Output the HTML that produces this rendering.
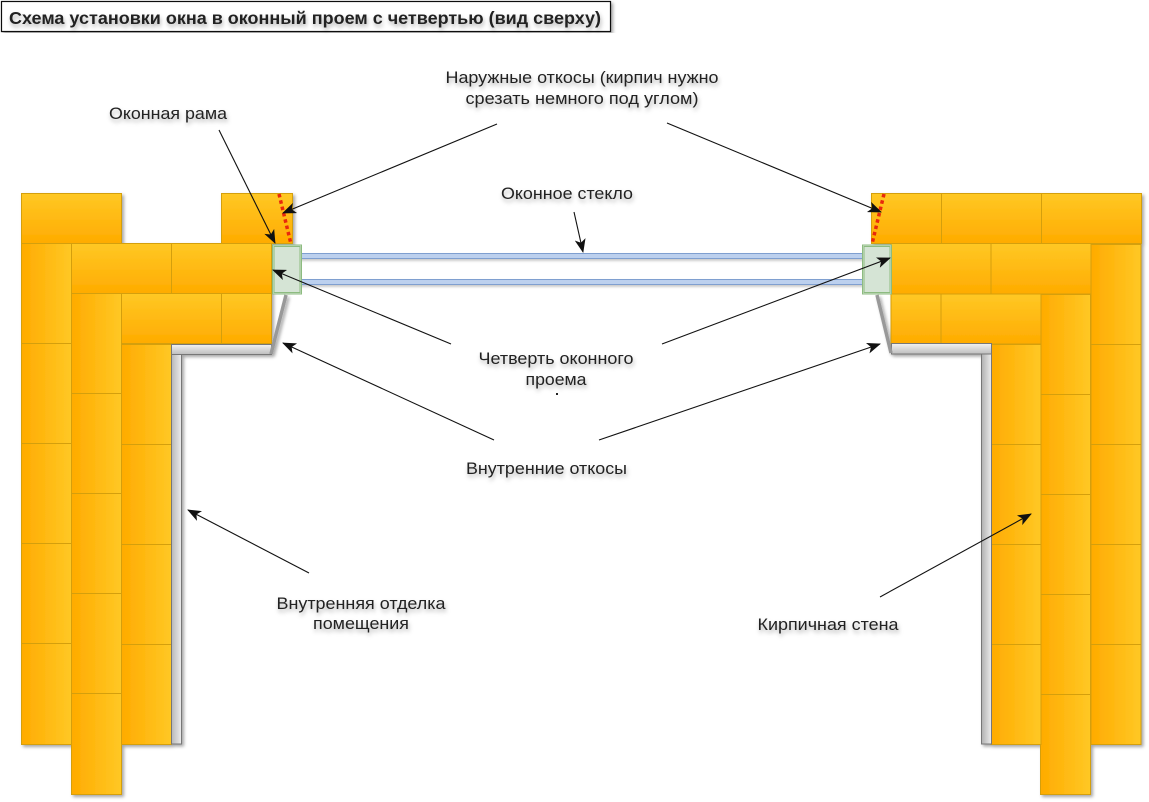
<!DOCTYPE html>
<html lang="ru">
<head>
<meta charset="utf-8">
<title>Схема установки окна</title>
<style>
html,body{margin:0;padding:0;background:#fff;width:1149px;height:802px;overflow:hidden}
svg{display:block}
text{font-family:"Liberation Sans",sans-serif;font-size:17px;fill:#222;text-anchor:middle;filter:url(#ts)}
.h{fill:url(#gh);stroke:#d49f10;stroke-width:1}
.v{fill:url(#gv);stroke:#d49f10;stroke-width:1}
.a{stroke:#111;stroke-width:1.1;fill:none;marker-end:url(#ar)}
</style>
</head>
<body>
<svg width="1149" height="802" viewBox="0 0 1149 802" xmlns="http://www.w3.org/2000/svg">
<defs>
<linearGradient id="gh" x1="0" y1="0" x2="0" y2="1"><stop offset="0" stop-color="#ffc825"/><stop offset="1" stop-color="#ffab00"/></linearGradient>
<linearGradient id="gv" x1="0" y1="0" x2="1" y2="0"><stop offset="0" stop-color="#ffab00"/><stop offset="1" stop-color="#ffc825"/></linearGradient>
<linearGradient id="th" x1="0" y1="0" x2="0" y2="1"><stop offset="0" stop-color="#f2f2f2"/><stop offset="1" stop-color="#bdbdbd"/></linearGradient>
<linearGradient id="tv" x1="0" y1="0" x2="1" y2="0"><stop offset="0" stop-color="#b8b8b8"/><stop offset="1" stop-color="#ececec"/></linearGradient>
<linearGradient id="tv2" x1="1" y1="0" x2="0" y2="0"><stop offset="0" stop-color="#ececec"/><stop offset="1" stop-color="#b0b0b0"/></linearGradient>
<filter id="sh" x="-5%" y="-5%" width="110%" height="110%"><feDropShadow dx="2" dy="2" stdDeviation="1.5" flood-color="#000" flood-opacity=".35"/></filter>
<filter id="gs" x="-2%" y="-60%" width="104%" height="240%"><feDropShadow dx="0" dy="2" stdDeviation="1" flood-color="#000" flood-opacity=".2"/></filter>
<filter id="ts" x="-5%" y="-20%" width="110%" height="160%"><feDropShadow dx="1" dy="3" stdDeviation="2" flood-color="#000" flood-opacity=".3"/></filter>
<marker id="ar" viewBox="0 0 14 11" refX="13" refY="5.500" markerWidth="14" markerHeight="11" markerUnits="userSpaceOnUse" orient="auto"><path d="M0 0L14 5.500L0 11L3.500 5.500Z" fill="#111"/></marker>
</defs>

<!-- title -->
<rect x="1.500" y="1.500" width="609" height="30" fill="#fff" stroke="#111" stroke-width="1.200" filter="url(#sh)"/>
<text x="305" y="24" style="font-size:17.500px;font-weight:700" textLength="592" lengthAdjust="spacingAndGlyphs">Схема установки окна в оконный проем с четвертью (вид сверху)</text>

<!-- left wall -->
<g filter="url(#sh)">
<rect class="h" x="21.500" y="193.500" width="100" height="50"/>
<rect class="h" x="221.500" y="193.500" width="71" height="50"/>
<rect class="v" x="71.500" y="693.500" width="50" height="101"/>
<rect class="v" x="71.500" y="593.500" width="50" height="100"/>
<rect class="v" x="21.500" y="243.500" width="50" height="100"/>
<rect class="v" x="21.500" y="343.500" width="50" height="100"/>
<rect class="v" x="21.500" y="443.500" width="50" height="100"/>
<rect class="v" x="21.500" y="543.500" width="50" height="100"/>
<rect class="v" x="21.500" y="643.500" width="50" height="101"/>
<rect class="v" x="71.500" y="293.500" width="50" height="100"/>
<rect class="v" x="71.500" y="393.500" width="50" height="100"/>
<rect class="v" x="71.500" y="493.500" width="50" height="100"/>
<rect class="v" x="121.500" y="344.500" width="50" height="100"/>
<rect class="v" x="121.500" y="444.500" width="50" height="100"/>
<rect class="v" x="121.500" y="544.500" width="50" height="100"/>
<rect class="v" x="121.500" y="644.500" width="50" height="100"/>
<rect class="h" x="71.500" y="243.500" width="100" height="50"/>
<rect class="h" x="171.500" y="243.500" width="100" height="50"/>
<rect class="h" x="121.500" y="293.500" width="100" height="50"/>
<rect class="h" x="221.500" y="293.500" width="50" height="50"/>
<!-- left trim -->
<rect x="171.500" y="354" width="10" height="390" fill="url(#tv)" stroke="#777" stroke-width="1"/>
<rect x="171.500" y="344.500" width="100" height="10" fill="url(#th)" stroke="#777" stroke-width="1"/>
<path d="M271 354L286 295" stroke="#999" stroke-width="3.500" fill="none"/>
</g>

<!-- right wall -->
<g filter="url(#sh)">
<rect class="h" x="871.500" y="193.500" width="70" height="50"/>
<rect class="h" x="941.500" y="193.500" width="100" height="50"/>
<rect class="h" x="1041.500" y="193.500" width="100" height="50"/>
<rect class="v" x="1091" y="244.500" width="50" height="100"/>
<rect class="v" x="1091" y="344.500" width="50" height="100"/>
<rect class="v" x="1091" y="444.500" width="50" height="100"/>
<rect class="v" x="1091" y="544.500" width="50" height="100"/>
<rect class="v" x="1091" y="644.500" width="50" height="100"/>
<rect class="v" x="1040.500" y="294.500" width="50" height="100"/>
<rect class="v" x="1040.500" y="394.500" width="50" height="100"/>
<rect class="v" x="1040.500" y="494.500" width="50" height="100"/>
<rect class="v" x="1040.500" y="594.500" width="50" height="100"/>
<rect class="v" x="1040.500" y="694.500" width="50" height="100"/>
<rect class="v" x="991" y="344.500" width="50" height="100"/>
<rect class="v" x="991" y="444.500" width="50" height="100"/>
<rect class="v" x="991" y="544.500" width="50" height="100"/>
<rect class="v" x="991" y="644.500" width="50" height="100"/>
<rect class="h" x="891" y="243.500" width="100" height="50.500"/>
<rect class="h" x="991" y="243.500" width="100" height="50.500"/>
<rect class="h" x="891" y="294" width="50" height="50"/>
<rect class="h" x="941" y="294" width="100" height="50"/>
<!-- right trim -->
<rect x="981.500" y="354" width="10" height="390" fill="url(#tv2)" stroke="#777" stroke-width="1"/>
<rect x="891.500" y="343.500" width="100" height="10.500" fill="url(#th)" stroke="#777" stroke-width="1"/>
<path d="M891 353L877 295" stroke="#999" stroke-width="3.500" fill="none"/>
</g>

<!-- red cut lines -->
<path d="M279 194L291 244" stroke="#e8280c" stroke-width="3.500" stroke-dasharray="3.500 3" fill="none"/>
<path d="M884 194L872 244" stroke="#e8280c" stroke-width="3.500" stroke-dasharray="3.500 3" fill="none"/>

<!-- glass -->
<g filter="url(#gs)">
<rect x="301" y="253.500" width="562" height="5" fill="#bcd0ee" stroke="#7f9fd0" stroke-width="1"/>
<rect x="301" y="279.500" width="562" height="5" fill="#bcd0ee" stroke="#7f9fd0" stroke-width="1"/>
</g>

<!-- frames -->
<rect x="272.500" y="245" width="29" height="49" fill="#d5e4d5" stroke="#8dbb80" stroke-width="1"/>
<rect x="274" y="246.500" width="26" height="46" fill="none" stroke="#8dbb80" stroke-width="1"/>
<rect x="862.500" y="245" width="29" height="49" fill="#d5e4d5" stroke="#8dbb80" stroke-width="1"/>
<rect x="864" y="246.500" width="26" height="46" fill="none" stroke="#8dbb80" stroke-width="1"/>

<!-- arrows -->
<path class="a" d="M219 130L275 243"/>
<path class="a" d="M497 124L283 213"/>
<path class="a" d="M667 123L881 212"/>
<path class="a" d="M574 212L583 252"/>
<path class="a" d="M451 344L273 270"/>
<path class="a" d="M662 344L890 258"/>
<path class="a" d="M494 440L283 343"/>
<path class="a" d="M599 440L880 344"/>
<path class="a" d="M309 573L188 510"/>
<path class="a" d="M880 597L1031 514"/>

<!-- labels -->
<text x="582" y="83" textLength="273" lengthAdjust="spacingAndGlyphs">Наружные откосы (кирпич нужно</text>
<text x="582" y="104" textLength="233" lengthAdjust="spacingAndGlyphs">срезать немного под углом)</text>
<text x="168" y="119" textLength="118" lengthAdjust="spacingAndGlyphs">Оконная рама</text>
<text x="567" y="199" textLength="132" lengthAdjust="spacingAndGlyphs">Оконное стекло</text>
<text x="556" y="364" textLength="155" lengthAdjust="spacingAndGlyphs">Четверть оконного</text>
<text x="556" y="385" textLength="61" lengthAdjust="spacingAndGlyphs">проема</text>
<rect x="556" y="393" width="2" height="2" fill="#222"/>
<text x="546.500" y="474" textLength="161" lengthAdjust="spacingAndGlyphs">Внутренние откосы</text>
<text x="361" y="609" textLength="169" lengthAdjust="spacingAndGlyphs">Внутренняя отделка</text>
<text x="361" y="629" textLength="96" lengthAdjust="spacingAndGlyphs">помещения</text>
<text x="828" y="630" textLength="141" lengthAdjust="spacingAndGlyphs">Кирпичная стена</text>
</svg>
</body>
</html>
